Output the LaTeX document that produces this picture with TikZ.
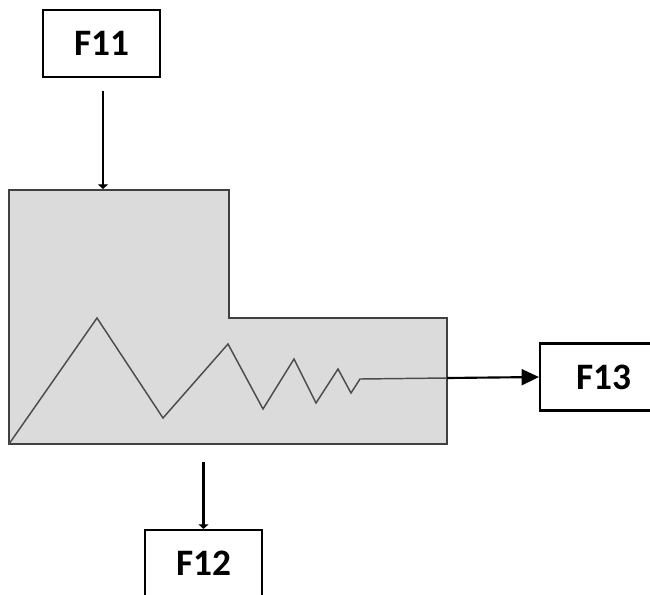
\documentclass[tikz,border=0pt]{standalone}
\usepackage{fontspec}
\setmainfont{Carlito}
\usetikzlibrary{arrows.meta}
\begin{document}
\begin{tikzpicture}[x=0.75pt,y=-0.75pt,
  box/.style={draw=black, line width=1.6pt, fill=white, minimum width=87.75pt, minimum height=50.25pt, inner sep=0pt, font=\fontsize{28}{32}\selectfont\bfseries},
  arr/.style={draw=black, line width=1.6pt},
  flathead/.style={-{Triangle[length=3.5pt,width=7.5pt]}},
  bighead/.style={-{Triangle[length=13pt,width=12pt]}},
  vessel/.style={fill=gray!28, draw=black!75, line width=1.1pt},
  zig/.style={draw=black!70, line width=1.1pt, line join=miter}]
\useasboundingbox (0,0) rectangle (650,594);
\clip (0,0) rectangle (650,594);
\draw[vessel] (9,444) -- (9,190) -- (229,190) -- (229,318) -- (447,318) -- (447,444) -- cycle;
\coordinate (tin) at (103,189);
\coordinate (out) at (447,378);
\coordinate (bot) at (203.5,444);
\coordinate (z0) at (9,444);
\draw[zig] (z0) -- (97,318) -- (163,418) -- (228,344) -- (263,409) -- (294,359) -- (316,403) -- (338,369) -- (351,393) -- (360,379) -- (out);
\node[box] (f11) at (101.5,43.5) {F11};
\node[box, minimum width=96pt] (f13) at (604,377) {F13};
\node[box] (f12) at (203.5,563.5) {F12};
\draw[arr, flathead, shorten <=10pt] (f11.south -| tin) -- (tin);
\draw[arr, flathead, shorten <=13.5pt] (bot) -- (f12.north);
\draw[arr, bighead] (out) -- (f13.west);
\end{tikzpicture}
\end{document}
